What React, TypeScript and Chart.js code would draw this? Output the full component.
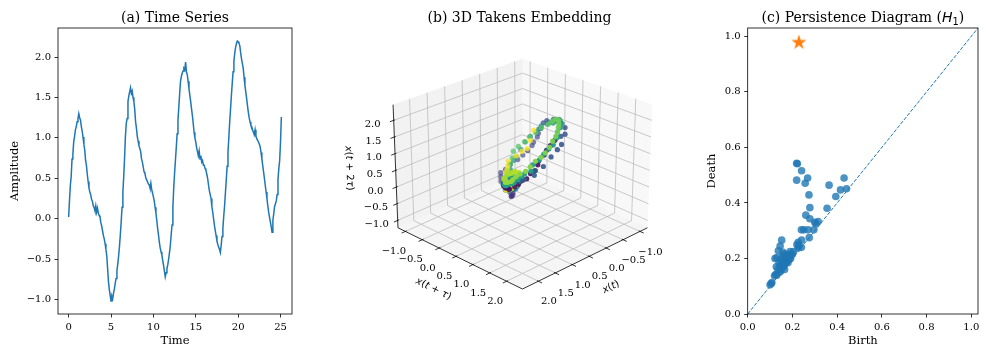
import React, { useEffect, useRef } from 'react';
import { Chart, registerables } from 'chart.js';

Chart.register(...registerables);

// ---------------- data ----------------
const SAMPLE_STEP = 0.1;
const amplitude: number[] = [
  0.02, 0.22, 0.41, 0.52, 0.74, 0.80, 0.95, 1.02, 1.10, 1.14,
  1.20, 1.24, 1.30, 1.25, 1.22, 1.14, 1.08, 1.01, 0.92, 0.85,
  0.72, 0.66, 0.55, 0.46, 0.38, 0.33, 0.30, 0.24, 0.22, 0.16,
  0.14, 0.10, 0.16, 0.08, 0.13, 0.07, 0.04, 0.02, -0.05, -0.09,
  -0.15, -0.21, -0.25, -0.31, -0.38, -0.46, -0.62, -0.78, -0.88, -0.95,
  -1.02, -0.96, -0.99, -0.92, -0.87, -0.80, -0.74, -0.64, -0.56, -0.46,
  -0.34, -0.20, -0.04, 0.14, 0.33, 0.52, 0.75, 1.02, 1.18, 1.24,
  1.45, 1.52, 1.57, 1.62, 1.55, 1.58, 1.50, 1.45, 1.35, 1.20,
  1.12, 1.02, 0.96, 0.90, 0.87, 0.83, 0.74, 0.70, 0.64, 0.58,
  0.56, 0.51, 0.48, 0.46, 0.43, 0.42, 0.38, 0.44, 0.36, 0.32,
  0.27, 0.22, 0.14, 0.07, -0.02, -0.12, -0.20, -0.29, -0.36, -0.41,
  -0.45, -0.52, -0.58, -0.65, -0.72, -0.67, -0.62, -0.57, -0.50, -0.42,
  -0.33, -0.20, -0.08, 0.14, 0.38, 0.56, 0.72, 0.88, 1.05, 1.22,
  1.38, 1.55, 1.70, 1.76, 1.80, 1.83, 1.86, 1.84, 1.94, 1.82,
  1.78, 1.70, 1.61, 1.53, 1.45, 1.36, 1.28, 1.18, 1.07, 1.00,
  0.95, 0.88, 0.83, 0.78, 0.84, 0.74, 0.78, 0.70, 0.72, 0.66,
  0.66, 0.62, 0.60, 0.55, 0.50, 0.42, 0.35, 0.30, 0.25, 0.15,
  0.08, 0.00, -0.08, -0.15, -0.21, -0.28, -0.32, -0.35, -0.38, -0.42,
  -0.33, -0.22, -0.12, 0.03, 0.16, 0.32, 0.48, 0.65, 0.82, 1.00,
  1.19, 1.35, 1.52, 1.67, 1.82, 1.95, 2.05, 2.12, 2.17, 2.20,
  2.19, 2.17, 2.14, 2.05, 1.98, 1.92, 1.86, 1.75, 1.65, 1.57,
  1.49, 1.40, 1.32, 1.25, 1.20, 1.16, 1.14, 1.10, 1.07, 1.04,
  1.10, 1.02, 0.99, 0.97, 0.95, 0.92, 0.89, 0.82, 0.74, 0.66,
  0.58, 0.50, 0.41, 0.33, 0.25, 0.16, 0.08, 0.02, -0.04, -0.10,
  -0.17, -0.02, 0.06, 0.15, 0.18, 0.22, 0.30, 0.48, 0.62, 0.72,
  0.95, 1.26,
];
const timeTicks = [0, 5, 10, 15, 20, 25];
const amplitudeTicks = [-1, -0.5, 0, 0.5, 1, 1.5, 2];

const embeddingLag = 6;
const embeddingTicks = [-1, -0.5, 0, 0.5, 1, 1.5, 2];
const embeddingRange = [-1.22, 2.47];

const birth = [
  0.100, 0.105, 0.108, 0.120, 0.125, 0.130, 0.128, 0.135, 0.122, 0.130,
  0.137, 0.145, 0.152, 0.140, 0.145, 0.150, 0.150, 0.155, 0.155, 0.160,
  0.160, 0.162, 0.165, 0.168, 0.170, 0.172, 0.175, 0.178, 0.180, 0.182,
  0.185, 0.188, 0.190, 0.192, 0.195, 0.165, 0.148, 0.142, 0.158, 0.175,
  0.225, 0.228, 0.226, 0.240, 0.241, 0.220, 0.275, 0.240, 0.251, 0.270,
  0.296, 0.305, 0.315, 0.278, 0.260, 0.278, 0.355, 0.274, 0.394, 0.415,
  0.442, 0.364, 0.431, 0.257, 0.268, 0.219, 0.241, 0.219, 0.222, 0.300,
  0.205, 0.200,
];
const death = [
  0.105, 0.110, 0.113, 0.138, 0.142, 0.140, 0.170, 0.160, 0.200, 0.203,
  0.228, 0.245, 0.266, 0.185, 0.175, 0.195, 0.165, 0.180, 0.205, 0.170,
  0.190, 0.215, 0.178, 0.195, 0.185, 0.205, 0.190, 0.200, 0.185, 0.210,
  0.195, 0.205, 0.225, 0.200, 0.215, 0.160, 0.155, 0.150, 0.222, 0.215,
  0.238, 0.245, 0.258, 0.240, 0.266, 0.250, 0.275, 0.303, 0.303, 0.303,
  0.303, 0.325, 0.333, 0.343, 0.356, 0.383, 0.381, 0.429, 0.423, 0.447,
  0.451, 0.464, 0.490, 0.471, 0.490, 0.482, 0.516, 0.543, 0.541, 0.330,
  0.225, 0.215,
];
const essentialBirth = [0.229];
const essentialDeath = [0.978];
const persistenceTicks = [0, 0.2, 0.4, 0.6, 0.8, 1.0];
const persistenceLimit = 1.03;

// ---------------- style helpers ----------------
const SERIF = '"DejaVu Serif", "Liberation Serif", serif';
const SANS = '"DejaVu Sans", sans-serif';
const BLUE = '#1f77b4';
const ORANGE = '#ff7f0e';
const TICK_SIZE = 10;
const LABEL_SIZE = 11.5;
const TITLE_SIZE = 14;

const fmt1 = (v: number) => (Math.abs(v) < 1e-9 ? 0 : v).toFixed(1).replace('-', '\u2212');
const fmtInt = (v: number) => String(Math.round(v)).replace('-', '\u2212');

function linearAxis(o: {
  min: number; max: number; ticks: number[]; fmt: (v: number) => string;
  axis: 'x' | 'y'; size: number; title: string; titlePadding: any;
}) {
  return {
    type: 'linear',
    min: o.min,
    max: o.max,
    afterBuildTicks: (s: any) => { s.ticks = o.ticks.map((v) => ({ value: v })); },
    afterFit: (s: any) => { if (o.axis === 'x') s.height = o.size; else s.width = o.size; },
    grid: { drawOnChartArea: false, drawTicks: true, tickLength: 3.5, color: '#000', lineWidth: 0.8 },
    border: { display: false },
    ticks: {
      font: { family: SERIF, size: TICK_SIZE }, color: '#000', padding: 3.5,
      autoSkip: false, maxRotation: 0, minRotation: 0,
      callback: (v: any) => o.fmt(Number(v)),
    },
    title: { display: true, text: o.title, font: { family: SERIF, size: LABEL_SIZE }, color: '#000', padding: o.titlePadding },
  };
}

type Seg = { text: string; font: string; dy?: number };

function makeTitlePlugin(segs: Seg[], centerX?: number) {
  return {
    id: 'panelTitle',
    afterDraw(chart: any) {
      const { ctx, chartArea } = chart;
      ctx.save();
      let total = 0;
      const ws = segs.map((s) => { ctx.font = s.font; const w = ctx.measureText(s.text).width; total += w; return w; });
      const cx = centerX !== undefined ? centerX : (chartArea.left + chartArea.right) / 2;
      let x = cx - total / 2;
      ctx.fillStyle = '#000';
      ctx.textAlign = 'left';
      ctx.textBaseline = 'alphabetic';
      segs.forEach((s, i) => { ctx.font = s.font; ctx.fillText(s.text, x, 22.3 + (s.dy || 0)); x += ws[i]; });
      ctx.restore();
    },
  };
}

const spinesPlugin = {
  id: 'spines',
  afterDatasetsDraw(chart: any) {
    const { ctx, chartArea: a } = chart;
    ctx.save();
    ctx.strokeStyle = '#000';
    ctx.lineWidth = 0.8;
    ctx.strokeRect(a.left, a.top, a.right - a.left, a.bottom - a.top);
    ctx.restore();
  },
};

// viridis colormap stops
const VIRIDIS = ['#440154', '#482475', '#414487', '#355f8d', '#2a788e', '#21918c', '#22a884', '#44bf70', '#7ad151', '#bddf26', '#fde725'];
function viridis(t: number, alpha: number) {
  const f = Math.max(0, Math.min(1, t)) * (VIRIDIS.length - 1);
  const i = Math.min(VIRIDIS.length - 2, Math.floor(f));
  const k = f - i;
  const h = (s: string) => [1, 3, 5].map((j) => parseInt(s.slice(j, j + 2), 16));
  const a = h(VIRIDIS[i]);
  const b = h(VIRIDIS[i + 1]);
  const c = a.map((x, j) => Math.round(x + (b[j] - x) * k));
  return `rgba(${c[0]},${c[1]},${c[2]},${alpha})`;
}

// 3D box view: screen position (canvas px of panel b) of the 8 corners, key = u v w (0/1)
const BOX_CORNERS: Record<string, [number, number]> = {
  '000': [193, 172], '100': [65.5, 229], '010': [321, 229], '110': [193, 291.7],
  '001': [193, 56], '101': [60.5, 103], '011': [326, 103], '111': [193, 150],
};
function boxPoint(u: number, v: number, w: number) {
  let x = 0; let y = 0;
  for (const i of [0, 1]) for (const j of [0, 1]) for (const k of [0, 1]) {
    const wt = (i ? u : 1 - u) * (j ? v : 1 - v) * (k ? w : 1 - w);
    const p = BOX_CORNERS[`${i}${j}${k}`];
    x += wt * p[0]; y += wt * p[1];
  }
  return { x, y };
}
const toUnit = (v: number) => (v - embeddingRange[0]) / (embeddingRange[1] - embeddingRange[0]);

function mathSegs(s: string, size: number): Seg[] {
  return s.split('').map((ch) => ({
    text: ch,
    font: /[a-zτ]/.test(ch) ? `italic ${size}px ${SANS}` : `${size}px ${SANS}`,
  }));
}
function drawRotated(ctx: any, segs: Seg[], cx: number, cy: number, angle: number) {
  ctx.save();
  ctx.translate(cx, cy);
  ctx.rotate(angle);
  let total = 0;
  const ws = segs.map((s) => { ctx.font = s.font; const w = ctx.measureText(s.text).width; total += w; return w; });
  let x = -total / 2;
  ctx.fillStyle = '#000';
  ctx.textAlign = 'left';
  ctx.textBaseline = 'middle';
  segs.forEach((s, i) => { ctx.font = s.font; ctx.fillText(s.text, x, 0); x += ws[i]; });
  ctx.restore();
}
function textAngle(a: [number, number], b: [number, number]) {
  let deg = (Math.atan2(b[1] - a[1], b[0] - a[0]) * 180) / Math.PI;
  deg = ((deg % 180) + 180) % 180;
  if (deg > 90) deg -= 180;
  return (deg * Math.PI) / 180;
}

const takensBoxPlugin = {
  id: 'takensBox',
  beforeDatasetsDraw(chart: any) {
    const { ctx } = chart;
    const sx = chart.scales.x;
    const sy = chart.scales.y;
    const P = (u: number, v: number, w: number): [number, number] => {
      const p = boxPoint(u, v, w);
      return [sx.getPixelForValue(p.x), sy.getPixelForValue(p.y)];
    };
    const poly = (pts: [number, number][], fill: string) => {
      ctx.beginPath();
      pts.forEach((p, i) => (i ? ctx.lineTo(p[0], p[1]) : ctx.moveTo(p[0], p[1])));
      ctx.closePath();
      ctx.fillStyle = fill;
      ctx.fill();
    };
    const line = (a: [number, number], b: [number, number], color: string, width: number) => {
      ctx.beginPath();
      ctx.moveTo(a[0], a[1]);
      ctx.lineTo(b[0], b[1]);
      ctx.strokeStyle = color;
      ctx.lineWidth = width;
      ctx.stroke();
    };
    ctx.save();
    poly([P(0, 0, 0), P(0, 1, 0), P(0, 1, 1), P(0, 0, 1)], 'rgba(242,242,242,0.5)');
    poly([P(0, 0, 0), P(1, 0, 0), P(1, 0, 1), P(0, 0, 1)], 'rgba(230,230,230,0.5)');
    poly([P(0, 0, 0), P(1, 0, 0), P(1, 1, 0), P(0, 1, 0)], 'rgba(236,236,236,0.5)');
    const tu = embeddingTicks.map(toUnit);
    const GRID = '#bdbdbd';
    tu.forEach((t) => {
      line(P(t, 0, 0), P(t, 1, 0), GRID, 0.8);
      line(P(0, t, 0), P(1, t, 0), GRID, 0.8);
      line(P(t, 0, 0), P(t, 0, 1), GRID, 0.8);
      line(P(0, 0, t), P(1, 0, t), GRID, 0.8);
      line(P(0, t, 0), P(0, t, 1), GRID, 0.8);
      line(P(0, 0, t), P(0, 1, t), GRID, 0.8);
    });
    // axis lines
    line(P(1, 0, 0), P(1, 1, 0), '#000', 0.8);
    line(P(0, 1, 0), P(1, 1, 0), '#000', 0.8);
    line(P(1, 0, 0), P(1, 0, 1), '#000', 0.8);
    // ticks + labels
    ctx.font = `${TICK_SIZE}px ${SERIF}`;
    ctx.textAlign = 'center';
    ctx.textBaseline = 'middle';
    embeddingTicks.forEach((val, i) => {
      const t = tu[i];
      line(P(t, 0.99, 0), P(t, 1.03, 0), '#000', 0.8);
      line(P(0.99, t, 0), P(1.03, t, 0), '#000', 0.8);
      line(P(0.99, 0, t), P(1.03, 0, t), '#000', 0.8);
      const a = P(t, 1, 0);
      const b = P(1, t, 0);
      const c = P(1, 0, t);
      ctx.fillStyle = '#000';
      ctx.fillText(fmt1(val), a[0] + 10.5, a[1] + 20.5);
      ctx.fillText(fmt1(val), b[0] - 11.5, b[1] + 20);
      ctx.fillText(fmt1(val), c[0] - 21, c[1] + 4);
    });
    // axis titles
    const m1 = P(1, 0.5, 0);
    drawRotated(ctx, mathSegs('x(t + τ)', 10), m1[0] - 26.75, m1[1] + 30.65, textAngle(P(1, 0, 0), P(1, 1, 0)));
    const m2 = P(0.5, 1, 0);
    drawRotated(ctx, mathSegs('x(t)', 10), m2[0] + 26, m2[1] + 28.65, textAngle(P(1, 1, 0), P(0, 1, 0)));
    const m3 = P(1, 0, 0.5);
    drawRotated(ctx, mathSegs('x(t + 2τ)', 10), m3[0] - 46.5, m3[1] + 2, textAngle(P(1, 0, 0), P(1, 0, 1)));
    ctx.restore();
  },
};

function makeStar(r: number, color: string) {
  const c = document.createElement('canvas');
  const size = Math.ceil(2 * r + 2);
  c.width = size;
  c.height = size;
  const g = c.getContext('2d')!;
  g.beginPath();
  for (let i = 0; i < 10; i++) {
    const rad = i % 2 === 0 ? r : r * 0.381966;
    const ang = -Math.PI / 2 + (i * Math.PI) / 5;
    const x = size / 2 + rad * Math.cos(ang);
    const y = size / 2 + rad * Math.sin(ang);
    if (i === 0) g.moveTo(x, y); else g.lineTo(x, y);
  }
  g.closePath();
  g.fillStyle = color;
  g.fill();
  return c;
}

export default function App() {
  const refA = useRef<HTMLCanvasElement>(null);
  const refB = useRef<HTMLCanvasElement>(null);
  const refC = useRef<HTMLCanvasElement>(null);

  useEffect(() => {
    const charts: Chart[] = [];

    // ---------- (a) time series ----------
    const time = amplitude.map((_, i) => i * SAMPLE_STEP);
    const tSpan = time[time.length - 1] - time[0];
    const aMin = Math.min(...amplitude);
    const aMax = Math.max(...amplitude);
    const aSpan = aMax - aMin;
    charts.push(new Chart(refA.current!, {
      type: 'line',
      data: {
        datasets: [{
          data: time.map((t, i) => ({ x: t, y: amplitude[i] })),
          borderColor: BLUE, borderWidth: 1.5, pointRadius: 0, tension: 0, fill: false,
        }],
      },
      options: {
        animation: false, responsive: false, maintainAspectRatio: false, events: [],
        layout: { padding: { left: 0, right: 38, top: 28, bottom: 0 } },
        plugins: { legend: { display: false }, tooltip: { enabled: false }, title: { display: false } },
        scales: {
          x: linearAxis({ min: time[0] - 0.05 * tSpan, max: time[time.length - 1] + 0.05 * tSpan, ticks: timeTicks, fmt: fmtInt, axis: 'x', size: 36, title: 'Time', titlePadding: { top: 0, bottom: 2.1 } }),
          y: linearAxis({ min: aMin - 0.05 * aSpan, max: aMax + 0.05 * aSpan, ticks: amplitudeTicks, fmt: fmt1, axis: 'y', size: 58, title: 'Amplitude', titlePadding: { top: 8.1, bottom: 0 } }),
        },
      } as any,
      plugins: [spinesPlugin, makeTitlePlugin([{ text: '(a) Time Series', font: `${TITLE_SIZE}px ${SERIF}` }])],
    }));

    // ---------- (b) Takens embedding ----------
    const emb: { u: number; v: number; w: number; i: number }[] = [];
    for (let i = 0; i + 2 * embeddingLag < amplitude.length; i++) {
      emb.push({ u: toUnit(amplitude[i]), v: toUnit(amplitude[i + embeddingLag]), w: toUnit(amplitude[i + 2 * embeddingLag]), i });
    }
    const depth = (p: { u: number; v: number; w: number }) => 0.612 * (p.u + p.v) + 0.375 * p.w;
    const dVals = emb.map(depth);
    const dMin = Math.min(...dVals);
    const dMax = Math.max(...dVals);
    const sorted = [...emb].sort((a, b) => depth(a) - depth(b));
    const n = emb.length;
    const pts = sorted.map((p) => boxPoint(p.u, p.v, p.w));
    const cols = sorted.map((p) => viridis(p.i / (n - 1), 0.65 + 0.35 * (depth(p) - dMin) / (dMax - dMin)));
    charts.push(new Chart(refB.current!, {
      type: 'scatter',
      data: { datasets: [{ data: pts, pointRadius: 2.6, pointBackgroundColor: cols, pointBorderWidth: 0, borderWidth: 0 }] },
      options: {
        animation: false, responsive: false, maintainAspectRatio: false, events: [],
        layout: { padding: 0 },
        plugins: { legend: { display: false }, tooltip: { enabled: false } },
        scales: {
          x: { type: 'linear', display: false, min: 0, max: 340 },
          y: { type: 'linear', display: false, min: 0, max: 350, reverse: true },
        },
      } as any,
      plugins: [takensBoxPlugin, makeTitlePlugin([{ text: '(b) 3D Takens Embedding', font: `${TITLE_SIZE}px ${SERIF}` }], 189.5)],
    }));

    // ---------- (c) persistence diagram ----------
    const star = makeStar(8, ORANGE);
    charts.push(new Chart(refC.current!, {
      type: 'scatter',
      data: {
        datasets: [
          { data: essentialBirth.map((b, i) => ({ x: b, y: essentialDeath[i] })), pointStyle: star, pointRadius: 8, borderWidth: 0 },
          { data: birth.map((b, i) => ({ x: b, y: death[i] })), pointRadius: 3.8, pointBackgroundColor: 'rgba(31,119,180,0.8)', pointBorderWidth: 0, borderWidth: 0 },
          { type: 'line', data: [{ x: 0, y: 0 }, { x: persistenceLimit, y: persistenceLimit }], borderColor: BLUE, borderWidth: 1, borderDash: [3.7, 1.6], pointRadius: 0, fill: false },
        ],
      },
      options: {
        animation: false, responsive: false, maintainAspectRatio: false, events: [],
        layout: { padding: { left: 0, right: 6, top: 28, bottom: 0 } },
        plugins: { legend: { display: false }, tooltip: { enabled: false } },
        scales: {
          x: linearAxis({ min: 0, max: persistenceLimit, ticks: persistenceTicks, fmt: fmt1, axis: 'x', size: 36, title: 'Birth', titlePadding: { top: 0, bottom: 2.1 } }),
          y: linearAxis({ min: 0, max: persistenceLimit, ticks: persistenceTicks, fmt: fmt1, axis: 'y', size: 77.7, title: 'Death', titlePadding: { top: 34.8, bottom: 0 } }),
        },
      } as any,
      plugins: [spinesPlugin, makeTitlePlugin([
        { text: '(c) Persistence Diagram (', font: `${TITLE_SIZE}px ${SERIF}` },
        { text: 'H', font: `italic ${TITLE_SIZE}px ${SANS}` },
        { text: '1', font: `${TITLE_SIZE * 0.7}px ${SANS}`, dy: 2.6 },
        { text: ')', font: `${TITLE_SIZE}px ${SERIF}` },
      ])],
    }));

    return () => charts.forEach((c) => c.destroy());
  }, []);

  const cs = (left: number, width: number): React.CSSProperties => ({ position: 'absolute', left, top: 0, width, height: 350 });
  return (
    <div style={{ position: 'fixed', left: 0, top: 0, width: 986, height: 350, background: '#fff' }}>
      <canvas ref={refA} width={330} height={350} style={cs(0, 330)} />
      <canvas ref={refB} width={340} height={350} style={cs(330, 340)} />
      <canvas ref={refC} width={316} height={350} style={cs(670, 316)} />
    </div>
  );
}
